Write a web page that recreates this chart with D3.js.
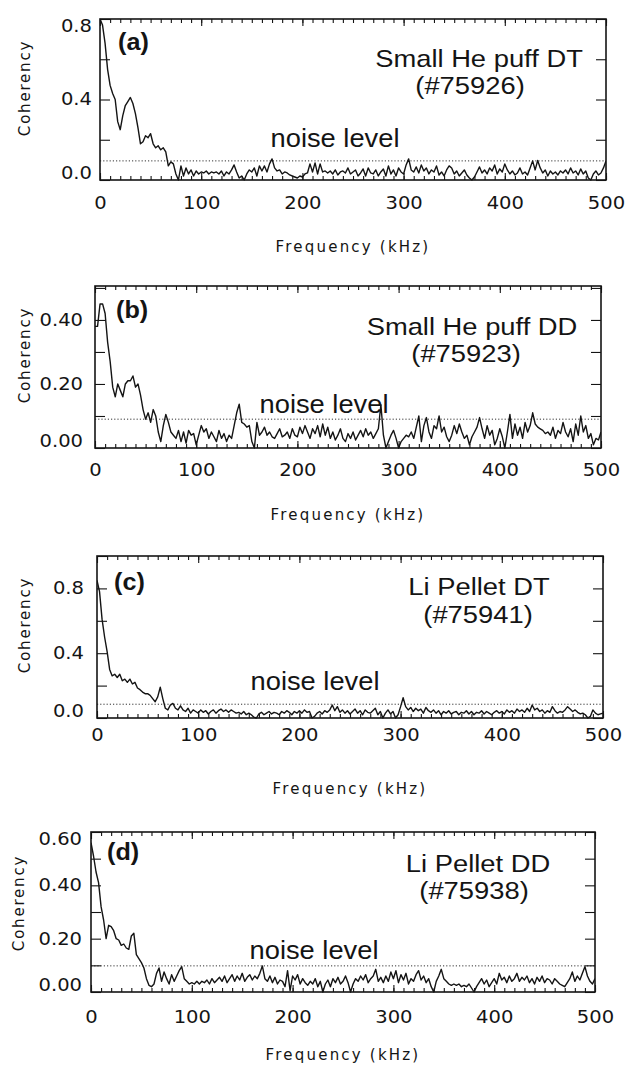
<!DOCTYPE html>
<html>
<head>
<meta charset="utf-8">
<script src="https://cdn.jsdelivr.net/npm/d3@7"></script>
<style>
  html, body { margin: 0; padding: 0; background: #fff; }
  svg { display: block; }
</style>
</head>
<body>
<svg id="fig" width="628" height="1069"></svg>
<script>
// Coherency spectra, one value every 2.5 kHz from 0 to 500 kHz (201 samples each)
const freqStep = 2.5;
const freqMax = 500;
const xTickValues = [0, 100, 200, 300, 400, 500];

const coherencyA = [
  0.80,0.77,0.68,0.55,0.47,0.43,0.40,0.29,
  0.25,0.32,0.37,0.39,0.41,0.38,0.33,0.26,
  0.18,0.19,0.22,0.21,0.23,0.18,0.16,0.17,
  0.15,0.16,0.14,0.07,0.09,0.08,0.03,0.00,
  0.07,0.02,0.06,0.03,0.05,0.02,0.045,0.03,
  0.04,0.035,0.045,0.03,0.04,0.035,0.04,0.03,
  0.045,0.02,0.04,0.03,0.05,0.075,0.04,0.01,
  0.02,0.0,0.03,0.05,0.04,0.06,0.02,0.07,
  0.045,0.07,0.04,0.08,0.105,0.06,0.045,0.05,
  0.03,0.04,0.035,0.025,0.02,0.015,0.01,0.02,
  0.015,0.03,0.035,0.08,0.04,0.085,0.03,0.08,
  0.04,0.045,0.035,0.045,0.03,0.05,0.025,0.04,
  0.045,0.035,0.06,0.03,0.04,0.05,0.02,0.035,
  0.055,0.02,0.06,0.035,0.03,0.05,0.02,0.04,
  0.055,0.02,0.07,0.03,0.05,0.02,0.06,0.04,
  0.03,0.075,0.105,0.05,0.04,0.065,0.035,0.075,
  0.045,0.06,0.03,0.05,0.04,0.07,0.025,0.04,
  0.02,0.05,0.07,0.06,0.03,0.045,0.02,0.035,
  0.05,0.025,0.01,0.0,0.015,0.04,0.065,0.035,
  0.05,0.03,0.06,0.045,0.075,0.03,0.055,0.04,
  0.08,0.05,0.03,0.045,0.025,0.035,0.06,0.03,
  0.04,0.025,0.06,0.095,0.05,0.097,0.06,0.035,
  0.05,0.02,0.045,0.03,0.04,0.025,0.045,0.035,
  0.05,0.03,0.06,0.035,0.045,0.025,0.055,0.03,
  0.045,0.01,0.0,0.03,0.045,0.025,0.035,0.06,
  0.095
];

const coherencyB = [
  0.38,0.38,0.45,0.45,0.42,0.33,0.27,0.19,
  0.16,0.20,0.18,0.16,0.20,0.21,0.21,0.225,
  0.19,0.20,0.165,0.12,0.09,0.11,0.08,0.12,
  0.10,0.05,0.02,0.07,0.105,0.08,0.05,0.04,
  0.03,0.055,0.02,0.05,0.015,0.055,0.04,0.045,
  0.01,0.04,0.07,0.05,0.06,0.03,0.05,0.035,
  0.02,0.055,0.03,0.045,0.02,0.04,0.03,0.07,
  0.11,0.137,0.08,0.075,0.065,0.07,0.02,0.0,
  0.08,0.04,0.05,0.065,0.04,0.05,0.035,0.03,
  0.045,0.06,0.035,0.04,0.05,0.03,0.06,0.04,
  0.035,0.065,0.045,0.07,0.05,0.03,0.06,0.045,
  0.07,0.035,0.075,0.04,0.065,0.03,0.05,0.025,
  0.04,0.06,0.03,0.02,0.045,0.03,0.05,0.025,
  0.04,0.055,0.035,0.06,0.04,0.05,0.03,0.045,
  0.06,0.135,0.04,0.0,0.02,0.04,0.055,0.03,
  0.0,0.02,0.03,0.04,0.035,0.05,0.03,0.065,
  0.10,0.02,0.07,0.095,0.05,0.03,0.07,0.06,
  0.10,0.05,0.065,0.035,0.02,0.04,0.07,0.045,
  0.075,0.05,0.03,0.04,0.01,0.035,0.05,0.065,
  0.095,0.06,0.03,0.07,0.04,0.055,0.01,0.03,
  0.06,0.035,0.0,0.05,0.105,0.03,0.075,0.04,
  0.065,0.03,0.08,0.05,0.07,0.11,0.075,0.065,
  0.06,0.055,0.045,0.05,0.04,0.065,0.03,0.055,
  0.045,0.08,0.05,0.035,0.06,0.02,0.075,0.04,
  0.10,0.05,0.07,0.03,0.045,0.01,0.03,0.025,
  0.05
];

const coherencyC = [
  0.85,0.78,0.61,0.50,0.41,0.30,0.26,0.27,
  0.25,0.27,0.23,0.24,0.22,0.24,0.21,0.22,
  0.185,0.175,0.16,0.15,0.15,0.14,0.12,0.10,
  0.13,0.19,0.12,0.06,0.05,0.08,0.09,0.06,
  0.05,0.075,0.05,0.04,0.06,0.03,0.05,0.04,
  0.03,0.05,0.035,0.045,0.025,0.04,0.05,0.03,
  0.045,0.055,0.04,0.05,0.035,0.05,0.04,0.03,
  0.035,0.025,0.04,0.02,0.03,0.02,0.005,0.0,
  0.025,0.035,0.02,0.03,0.04,0.025,0.035,0.03,
  0.02,0.04,0.03,0.045,0.035,0.02,0.04,0.03,
  0.045,0.03,0.05,0.035,0.04,0.0,0.01,0.03,
  0.04,0.025,0.045,0.035,0.05,0.08,0.045,0.07,
  0.035,0.05,0.03,0.045,0.025,0.04,0.055,0.03,
  0.045,0.02,0.05,0.035,0.03,0.045,0.06,0.02,
  0.04,0.0,0.03,0.05,0.025,0.04,0.0,0.02,
  0.07,0.125,0.07,0.05,0.065,0.04,0.06,0.045,
  0.055,0.03,0.065,0.045,0.035,0.05,0.03,0.045,
  0.02,0.04,0.03,0.045,0.025,0.035,0.04,0.02,
  0.035,0.03,0.045,0.025,0.04,0.02,0.035,0.03,
  0.045,0.025,0.04,0.03,0.02,0.035,0.045,0.03,
  0.04,0.025,0.05,0.035,0.045,0.03,0.055,0.04,
  0.05,0.035,0.06,0.04,0.08,0.05,0.06,0.04,
  0.05,0.03,0.045,0.035,0.07,0.045,0.03,0.04,
  0.035,0.05,0.07,0.055,0.04,0.05,0.035,0.025,
  0.03,0.02,0.0,0.01,0.05,0.03,0.02,0.025,
  0.03
];

const coherencyD = [
  0.56,0.51,0.45,0.41,0.32,0.27,0.20,0.25,
  0.245,0.23,0.20,0.195,0.175,0.18,0.165,0.16,
  0.21,0.22,0.14,0.125,0.11,0.09,0.05,0.025,
  0.02,0.03,0.07,0.09,0.04,0.075,0.05,0.03,
  0.065,0.04,0.06,0.08,0.095,0.05,0.04,0.03,
  0.035,0.03,0.04,0.03,0.04,0.035,0.045,0.03,
  0.05,0.035,0.045,0.055,0.04,0.06,0.035,0.05,
  0.065,0.04,0.06,0.045,0.07,0.04,0.055,0.065,
  0.045,0.06,0.05,0.07,0.098,0.05,0.04,0.06,
  0.035,0.055,0.03,0.045,0.04,0.02,0.08,0.005,
  0.06,0.045,0.065,0.03,0.05,0.035,0.025,0.04,
  0.03,0.05,0.02,0.04,0.0,0.03,0.045,0.02,
  0.05,0.035,0.055,0.03,0.04,0.06,0.035,0.0,
  0.03,0.05,0.04,0.06,0.045,0.065,0.035,0.05,
  0.06,0.085,0.04,0.055,0.035,0.06,0.04,0.075,
  0.05,0.08,0.035,0.065,0.045,0.07,0.03,0.05,
  0.04,0.065,0.08,0.045,0.06,0.035,0.05,0.02,
  0.0,0.04,0.06,0.085,0.05,0.04,0.03,0.025,
  0.03,0.025,0.03,0.02,0.025,0.02,0.03,0.015,
  0.0,0.02,0.035,0.05,0.03,0.045,0.02,0.035,
  0.05,0.03,0.07,0.045,0.055,0.035,0.06,0.04,
  0.05,0.07,0.04,0.055,0.045,0.06,0.035,0.05,
  0.03,0.055,0.04,0.06,0.035,0.05,0.045,0.03,
  0.05,0.04,0.03,0.025,0.02,0.035,0.05,0.075,
  0.04,0.06,0.045,0.07,0.095,0.06,0.04,0.03,
  0.05
];

const noiseLevels = [0.095, 0.09, 0.085, 0.098];
const panelTags = ["(a)", "(b)", "(c)", "(d)"];
const shotTitles = ["Small He puff DT", "Small He puff DD", "Li Pellet DT", "Li Pellet DD"];
const shotNumbers = ["(#75926)", "(#75923)", "(#75941)", "(#75938)"];
const yMaxValues = [0.8, 0.506, 1.0, 0.6];
const yTickValues = [
  [0, 0.2, 0.4, 0.6, 0.8],
  [0, 0.1, 0.2, 0.3, 0.4, 0.5],
  [0, 0.2, 0.4, 0.6, 0.8, 1.0],
  [0, 0.1, 0.2, 0.3, 0.4, 0.5, 0.6]
];
const yLabelValues = [[0, 0.4, 0.8], [0, 0.2, 0.4], [0, 0.4, 0.8], [0, 0.2, 0.4, 0.6]];
const yLabelFormats = [".1f", ".2f", ".1f", ".2f"];
const xAxisTitle = "Frequency (kHz)";
const yAxisTitle = "Coherency";
const noiseText = "noise level";

// Page geometry of each panel (frame, label and annotation placement)
const layout = [
  { left: 100, right: 606, top: 19,  bottom: 180, labGap: 8,  xLabY: 203,  xTitleY: 247,  yTitleX: 30, yTitleY: 88,
    tag: [118, 50],  t1: [479, 67],  t2: [470, 94],  noise: [335, 147] },
  { left: 95,  right: 601, top: 286, bottom: 448, labGap: 12, xLabY: 470,  xTitleY: 515,  yTitleX: 30, yTitleY: 355,
    tag: [116, 318], t1: [472, 335], t2: [466, 362], noise: [324, 413] },
  { left: 97,  right: 603, top: 556, bottom: 718, labGap: 13, xLabY: 735,  xTitleY: 789,  yTitleX: 30, yTitleY: 625,
    tag: [114, 590], t1: [479, 595], t2: [478, 623], noise: [315, 690] },
  { left: 91,  right: 595, top: 832, bottom: 992, labGap: 9,  xLabY: 1017, xTitleY: 1055, yTitleX: 24, yTitleY: 903,
    tag: [107, 860], t1: [478, 872], t2: [474, 899], noise: [314, 959] }
];

const INK = "#141414";
const tickFont = "'DejaVu Sans', sans-serif";
const noteFont = "'Liberation Sans', Arial, Helvetica, sans-serif";
const tickStretch = 1.15;
const noteStretch = 1.05;
const captionStretch = 1.14;

const svg = d3.select("#fig");
const series = [coherencyA, coherencyB, coherencyC, coherencyD];
const minorX = d3.range(0, freqMax + 1, 10);

series.forEach((vals, i) => {
  const L = layout[i];
  const x = d3.scaleLinear().domain([0, freqMax]).range([L.left, L.right]);
  const y = d3.scaleLinear().domain([0, yMaxValues[i]]).range([L.bottom, L.top]);
  const g = svg.append("g").attr("class", "panel");

  const clipId = "frame-clip-" + i;
  svg.append("clipPath").attr("id", clipId)
    .append("rect")
    .attr("x", L.left).attr("y", L.top - 1)
    .attr("width", L.right - L.left).attr("height", L.bottom - L.top + 2);

  // noise threshold (dotted)
  g.append("line")
    .attr("x1", x(0)).attr("x2", x(freqMax))
    .attr("y1", y(noiseLevels[i])).attr("y2", y(noiseLevels[i]))
    .attr("stroke", "#333").attr("stroke-width", 1)
    .attr("stroke-dasharray", "1.2,2");

  // coherency spectrum
  const line = d3.line()
    .x((d, j) => x(j * freqStep))
    .y(d => y(d));
  g.append("path")
    .datum(vals)
    .attr("clip-path", `url(#${clipId})`)
    .attr("d", line)
    .attr("fill", "none")
    .attr("stroke", INK)
    .attr("stroke-width", 1.4)
    .attr("stroke-linejoin", "round");

  const styleTicks = sel => {
    sel.select(".domain").remove();
    sel.selectAll(".tick line").attr("stroke", INK).attr("stroke-width", 1.1);
  };

  // bottom axis: minor and labelled major ticks, pointing inward
  g.append("g").attr("transform", `translate(0,${L.bottom})`)
    .call(d3.axisBottom(x).tickValues(minorX).tickSize(-4).tickSizeOuter(0).tickFormat(""))
    .call(styleTicks);
  const xb = g.append("g").attr("transform", `translate(0,${L.bottom})`)
    .call(d3.axisBottom(x).tickValues(xTickValues).tickSize(-7).tickSizeOuter(0).tickFormat(d3.format("d")))
    .call(styleTicks);
  xb.selectAll(".tick text")
    .attr("y", L.xLabY - L.bottom)
    .attr("dy", "0.36em")
    .attr("transform", `scale(${tickStretch},1)`)
    .attr("fill", INK)
    .style("font-family", tickFont)
    .style("font-size", "17px");

  // top axis ticks
  g.append("g").attr("transform", `translate(0,${L.top})`)
    .call(d3.axisTop(x).tickValues(minorX).tickSize(-4).tickSizeOuter(0).tickFormat(""))
    .call(styleTicks);
  g.append("g").attr("transform", `translate(0,${L.top})`)
    .call(d3.axisTop(x).tickValues(xTickValues).tickSize(-7).tickSizeOuter(0).tickFormat(""))
    .call(styleTicks);

  // left axis with labels
  const fmt = d3.format(yLabelFormats[i]);
  const labelled = v => yLabelValues[i].some(u => Math.abs(u - v) < 1e-9);
  const yl = g.append("g").attr("transform", `translate(${L.left},0)`)
    .call(d3.axisLeft(y).tickValues(yTickValues[i]).tickSize(-10).tickSizeOuter(0)
      .tickPadding(L.labGap / tickStretch)
      .tickFormat(v => labelled(v) ? fmt(v) : ""))
    .call(styleTicks);
  yl.selectAll(".tick text")
    .attr("y", v => v === 0 ? -7 : (Math.abs(v - yMaxValues[i]) < 1e-9 ? 7 : 0))
    .attr("transform", `scale(${tickStretch},1)`)
    .attr("fill", INK)
    .style("font-family", tickFont)
    .style("font-size", "17px");

  // right axis ticks
  g.append("g").attr("transform", `translate(${L.right},0)`)
    .call(d3.axisRight(y).tickValues(yTickValues[i]).tickSize(-10).tickSizeOuter(0).tickFormat(""))
    .call(styleTicks);

  // frame
  g.append("rect")
    .attr("x", L.left).attr("y", L.top)
    .attr("width", L.right - L.left).attr("height", L.bottom - L.top)
    .attr("fill", "none").attr("stroke", INK).attr("stroke-width", 1.6);

  // axis titles
  g.append("text")
    .attr("x", (L.left + L.right) / 2).attr("y", L.xTitleY)
    .attr("dy", "0.35em")
    .attr("text-anchor", "middle")
    .attr("fill", INK)
    .style("font-family", tickFont).style("font-size", "15px")
    .style("letter-spacing", "2.2px")
    .text(xAxisTitle);
  g.append("text")
    .attr("transform", `translate(${L.yTitleX},${L.yTitleY}) rotate(-90)`)
    .attr("text-anchor", "middle")
    .attr("fill", INK)
    .style("font-family", tickFont).style("font-size", "15px")
    .style("letter-spacing", "1.8px")
    .text(yAxisTitle);

  // annotations
  const note = (pos, size, weight, stretch) => g.append("text")
    .attr("transform", `translate(${pos[0]},${pos[1]}) scale(${stretch},1)`)
    .attr("fill", INK)
    .style("font-family", noteFont)
    .style("font-size", size + "px")
    .style("font-weight", weight);
  note(L.tag, 24, "bold", noteStretch).attr("text-anchor", "start").text(panelTags[i]);
  note(L.noise, 26, "normal", noteStretch).attr("text-anchor", "middle").text(noiseText);

  // two-line shot caption
  note(L.t1, 24, "normal", captionStretch).attr("text-anchor", "middle").text(shotTitles[i]);
  note(L.t2, 24, "normal", captionStretch).attr("text-anchor", "middle").text(shotNumbers[i]);
});
</script>
</body>
</html>
